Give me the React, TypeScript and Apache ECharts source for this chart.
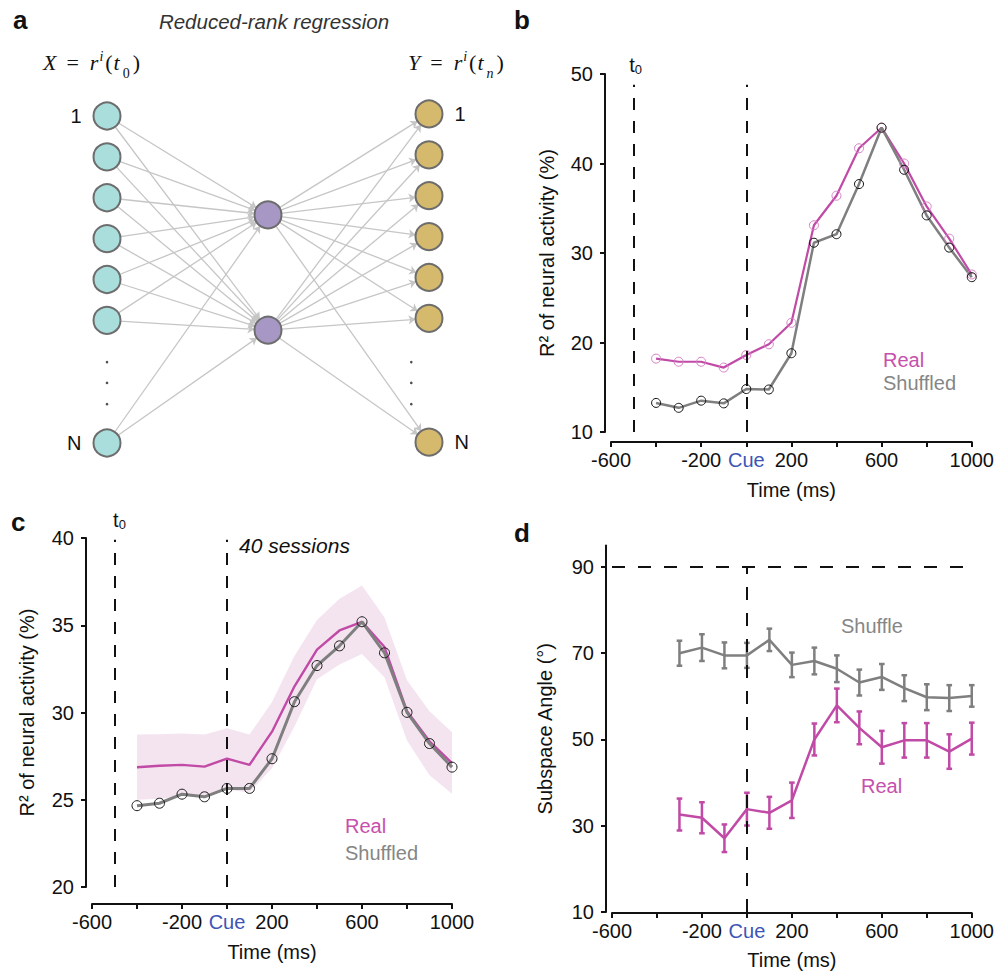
import React, { useEffect, useRef } from 'react';
import * as echarts from 'echarts';

const SANS = '"Liberation Sans", Arial, Helvetica, sans-serif';
const SERIF = '"Liberation Serif", "DejaVu Serif", serif';
const INK = '#111111';
const MAGENTA = '#c04aa6';
const MAGENTA_TEXT = '#c650ac';
const MAGENTA_MARK = '#d77fc6';
const GRAY = '#7f7f7f';
const GRAY_TEXT = '#868686';
const CUE_BLUE = '#3c55b4';
const BAND = '#f4e4f0';
const EDGE = '#c6c6c6';

// ---- a: reduced-rank regression network (layer index, row index) ----
const inputRows = [0, 1, 2, 3, 4, 5, 8];
const inputLabels = ['1', '', '', '', '', '', 'N'];
const latentRows = [2.42, 5.24];
const outputRows = [-0.05, 0.95, 1.95, 2.95, 3.95, 4.95, 7.98];
const outputLabels = ['1', '', '', '', '', '', 'N'];
const ellipsisRows = [6.02, 6.53, 7.05];
const ellipsisLayers = [0, 1.89];

// ---- shared time axis ----
const labelledTimes = [-600, -200, 0, 200, 600, 1000];
const onsetTime = -500;
const cueTime = 0;

// ---- b: single session ----
const timeB = [-400, -300, -200, -100, 0, 100, 200, 300, 400, 500, 600, 700, 800, 900, 1000];
const realB = [18.2, 17.85, 17.85, 17.2, 18.6, 19.8, 22.2, 33.1, 36.4, 41.7, 44.0, 40.0, 35.2, 31.6, 27.6];
const shuffledB = [13.25, 12.7, 13.5, 13.2, 14.8, 14.75, 18.8, 31.15, 32.1, 37.7, 44.0, 39.3, 34.2, 30.6, 27.3];

// ---- c: 40 sessions ----
const timeC = [-400, -300, -200, -100, 0, 100, 200, 300, 400, 500, 600, 700, 800, 900, 1000];
const realC = [26.86, 26.95, 27.0, 26.9, 27.36, 27.0, 28.9, 31.5, 33.6, 34.7, 35.2, 33.75, 30.07, 28.35, 27.1];
const shuffledC = [24.66, 24.8, 25.32, 25.17, 25.65, 25.65, 27.35, 30.62, 32.69, 33.82, 35.2, 33.42, 30.01, 28.22, 26.87];
const bandUpperC = [28.74, 28.76, 28.8, 28.74, 29.1, 28.74, 30.6, 33.25, 35.3, 36.52, 37.28, 35.45, 31.85, 30.07, 28.87];
const bandLowerC = [25.0, 25.06, 25.2, 25.2, 25.57, 25.42, 26.8, 29.2, 31.9, 32.75, 33.35, 32.0, 28.4, 26.4, 25.35];

// ---- d: subspace angle ----
const timeD = [-300, -200, -100, 0, 100, 200, 300, 400, 500, 600, 700, 800, 900, 1000];
const shuffleD = [70.0, 71.3, 69.5, 69.5, 73.1, 67.3, 68.2, 66.4, 63.2, 64.5, 61.9, 59.8, 59.6, 60.1];
const shuffleErrD = [2.9, 3.1, 3.0, 2.9, 2.6, 2.85, 3.1, 3.1, 3.0, 3.0, 3.0, 3.0, 3.0, 2.5];
const realD = [32.6, 31.85, 27.1, 33.85, 33.0, 35.9, 50.0, 57.9, 52.7, 48.2, 49.8, 49.8, 47.2, 50.2];
const realErrD = [3.7, 3.6, 3.2, 3.8, 3.7, 4.1, 3.7, 3.9, 3.8, 3.8, 4.0, 4.0, 4.0, 3.7];
const angleTicks = [10, 30, 50, 70, 90];
const orthogonalAngle = 90;

const axisLineStyle = { color: INK, width: 2 };

function timeAxis(gridIndex: number, offset: number, nameGap: number) {
  return {
    type: 'value',
    gridIndex,
    min: -600,
    max: 1000,
    interval: 200,
    offset,
    axisLine: { show: true, onZero: false, lineStyle: axisLineStyle },
    axisTick: { show: true, length: 5, lineStyle: axisLineStyle },
    splitLine: { show: false },
    axisLabel: {
      margin: 8,
      fontSize: 20,
      fontFamily: SANS,
      color: INK,
      formatter: (v: number) =>
        v === cueTime ? '{cue|Cue}' : labelledTimes.includes(v) ? String(v) : '',
      rich: { cue: { color: CUE_BLUE, fontSize: 20, fontFamily: SANS } },
    },
    name: 'Time (ms)',
    nameLocation: 'middle',
    nameGap,
    nameTextStyle: { fontSize: 20, fontFamily: SANS, color: INK },
  };
}

function valueAxis(
  gridIndex: number,
  min: number,
  max: number,
  interval: number,
  name: string,
  nameGap: number,
  custom?: number[]
) {
  return {
    type: 'value',
    gridIndex,
    min,
    max,
    interval,
    offset: 6,
    axisLine: { show: true, onZero: false, lineStyle: axisLineStyle },
    axisTick: custom
      ? { show: true, length: 5, lineStyle: axisLineStyle, customValues: custom }
      : { show: true, length: 5, lineStyle: axisLineStyle },
    splitLine: { show: false },
    axisLabel: custom
      ? { margin: 12, fontSize: 20, fontFamily: SANS, color: INK, customValues: custom }
      : { margin: 12, fontSize: 20, fontFamily: SANS, color: INK },
    name,
    nameLocation: 'middle',
    nameGap,
    nameTextStyle: { fontSize: 20, fontFamily: SANS, color: INK },
  };
}

function onsetLabel(padLeft: number) {
  return {
    show: true,
    position: 'end',
    distance: 8,
    formatter: '{t|t}{s|0}',
    rich: {
      t: { fontSize: 20, fontFamily: SANS, color: INK, lineHeight: 24, padding: [0, 0, 0, padLeft] },
      s: { fontSize: 13, fontFamily: SANS, color: INK, lineHeight: 13, verticalAlign: 'top', padding: [10, 0, 0, 0] },
    },
  };
}

function dashedMarks(top: number, bottom: number, dash: number[], padLeft: number) {
  return {
    silent: true,
    symbol: ['none', 'none'],
    animation: false,
    lineStyle: { type: dash, color: INK, width: 2 },
    label: { show: false },
    emphasis: { disabled: true },
    data: [
      [{ coord: [onsetTime, bottom] }, { coord: [onsetTime, top], label: onsetLabel(padLeft) }],
      [{ coord: [cueTime, bottom] }, { coord: [cueTime, top] }],
    ],
  };
}

function errorBars(axisIndex: number, times: number[], means: number[], errs: number[], color: string) {
  return {
    type: 'custom',
    xAxisIndex: axisIndex,
    yAxisIndex: axisIndex,
    silent: true,
    data: times.map((t, i) => [t, means[i] - errs[i], means[i] + errs[i]]),
    encode: { x: 0, y: [1, 2] },
    renderItem: (_params: any, api: any) => {
      const x = api.value(0);
      const top = api.coord([x, api.value(2)]);
      const bot = api.coord([x, api.value(1)]);
      const w = 2.8;
      const style = { stroke: color, lineWidth: 2.5 };
      return {
        type: 'group',
        children: [
          { type: 'line', shape: { x1: top[0], y1: top[1], x2: bot[0], y2: bot[1] }, style },
          { type: 'line', shape: { x1: top[0] - w, y1: top[1], x2: top[0] + w, y2: top[1] }, style },
          { type: 'line', shape: { x1: bot[0] - w, y1: bot[1], x2: bot[0] + w, y2: bot[1] }, style },
        ],
      };
    },
  };
}

function text(x: number, y: number, content: string, font: string, fill: string, align = 'left') {
  return {
    type: 'text',
    x,
    y,
    silent: true,
    style: { text: content, font, fill, align, verticalAlign: 'middle' },
  };
}

// r^i(t_k) written with rich tokens: superscript via top alignment, subscript via top padding
function formula(x: number, y: number, lhs: string, sub: string) {
  const main = { fontFamily: SERIF, fontStyle: 'italic', fontSize: 22, lineHeight: 40, fill: INK };
  const up = { fontFamily: SERIF, fontStyle: 'normal', fontSize: 22, lineHeight: 40, fill: INK };
  return {
    type: 'text',
    x,
    y,
    silent: true,
    style: {
      text: `{a|${lhs}}{eq|=}{r|r}{sup|i}{p1|(}{t|t}{sub|${sub}}{p2|)}`,
      verticalAlign: 'top',
      rich: {
        a: { ...main, padding: [0, 3, 0, 0] },
        eq: { ...up, padding: [0, 8, 0, 7] },
        r: { ...main, padding: [0, 0, 0, 3] },
        sup: { fontFamily: SERIF, fontStyle: 'italic', fontSize: 14, lineHeight: 14, verticalAlign: 'top', fill: INK, padding: [7, 0, 0, 1] },
        p1: { ...up, padding: [0, 0, 0, 2] },
        t: { ...main, padding: [0, 0, 0, 1] },
        sub: { fontFamily: SERIF, fontStyle: sub === 'n' ? 'italic' : 'normal', fontSize: 14, lineHeight: 14, verticalAlign: 'top', fill: INK, padding: [24, 0, 0, 3] },
        p2: { ...up, padding: [0, 0, 0, 3] },
      },
    },
  };
}

function buildOption() {
  // network nodes and fully-connected links
  const nodeStyle = { borderColor: '#6d6d6d', borderWidth: 2 };
  const nodeLabel = (t: string, pos: string) => ({
    show: t !== '',
    formatter: t,
    position: pos,
    distance: 11,
    fontSize: 20,
    fontFamily: SANS,
    color: INK,
  });
  const nodes = [
    ...inputRows.map((r, i) => ({
      name: `x${i}`,
      value: [0, r],
      itemStyle: { ...nodeStyle, color: '#a9dedc' },
      label: nodeLabel(inputLabels[i], 'left'),
    })),
    ...latentRows.map((r, i) => ({
      name: `z${i}`,
      value: [1, r],
      itemStyle: { ...nodeStyle, color: '#a697c5' },
      label: { show: false },
    })),
    ...outputRows.map((r, i) => ({
      name: `y${i}`,
      value: [2, r],
      itemStyle: { ...nodeStyle, color: '#d5b96c' },
      label: nodeLabel(outputLabels[i], 'right'),
    })),
  ];
  const links: { source: number; target: number }[] = [];
  inputRows.forEach((_, i) =>
    latentRows.forEach((_, j) => links.push({ source: i, target: inputRows.length + j }))
  );
  latentRows.forEach((_, j) =>
    outputRows.forEach((_, k) =>
      links.push({ source: inputRows.length + j, target: inputRows.length + latentRows.length + k })
    )
  );
  const dots: number[][] = [];
  ellipsisLayers.forEach((l) => ellipsisRows.forEach((r) => dots.push([l, r])));

  return {
    animation: false,
    backgroundColor: '#ffffff',
    grid: [
      { left: 107, top: 116, width: 322, height: 327 },
      { left: 611, top: 74, width: 361, height: 358 },
      { left: 92, top: 538, width: 360, height: 349 },
      { left: 612, top: 545.4, width: 360, height: 366.6 },
    ],
    xAxis: [
      { type: 'value', gridIndex: 0, min: 0, max: 2, show: false },
      timeAxis(1, 10, 38),
      timeAxis(2, 17, 38),
      timeAxis(3, 1, 37),
    ],
    yAxis: [
      { type: 'value', gridIndex: 0, min: 0, max: 8, inverse: true, show: false },
      valueAxis(1, 10, 50, 10, 'R² of neural activity (%)', 48),
      valueAxis(2, 20, 40, 5, 'R² of neural activity (%)', 49),
      valueAxis(3, 10, 95, 20, 'Subspace Angle (°)', 51, angleTicks),
    ],
    series: [
      // a
      {
        type: 'graph',
        coordinateSystem: 'cartesian2d',
        xAxisIndex: 0,
        yAxisIndex: 0,
        layout: 'none',
        silent: true,
        symbol: 'circle',
        symbolSize: 27,
        edgeSymbol: ['none', 'arrow'],
        edgeSymbolSize: [0, 7],
        lineStyle: { color: EDGE, width: 1.3, opacity: 1 },
        emphasis: { disabled: true },
        data: nodes,
        links,
      },
      {
        type: 'scatter',
        xAxisIndex: 0,
        yAxisIndex: 0,
        silent: true,
        clip: false,
        symbol: 'circle',
        symbolSize: 2.6,
        itemStyle: { color: '#222' },
        data: dots,
      },
      // b
      {
        type: 'line',
        xAxisIndex: 1,
        yAxisIndex: 1,
        data: timeB.map((t, i) => [t, realB[i]]),
        symbol: 'circle',
        symbolSize: 9,
        lineStyle: { color: MAGENTA, width: 2.2 },
        itemStyle: { color: 'rgba(255,255,255,0)', borderColor: MAGENTA_MARK, borderWidth: 1 },
        markLine: dashedMarks(48.8, 10, [12, 11], 4),
      },
      {
        type: 'line',
        xAxisIndex: 1,
        yAxisIndex: 1,
        data: timeB.map((t, i) => [t, shuffledB[i]]),
        symbol: 'circle',
        symbolSize: 9,
        lineStyle: { color: GRAY, width: 2.5 },
        itemStyle: { color: 'rgba(255,255,255,0)', borderColor: '#111', borderWidth: 1 },
      },
      // c
      {
        type: 'custom',
        xAxisIndex: 2,
        yAxisIndex: 2,
        silent: true,
        data: timeC.map((t, i) => [t, bandLowerC[i], bandUpperC[i]]),
        encode: { x: 0, y: [1, 2] },
        renderItem: (params: any, api: any) => {
          if (params.dataIndex !== 0) return null;
          const pts: number[][] = [];
          for (let i = 0; i < timeC.length; i++) pts.push(api.coord([timeC[i], bandUpperC[i]]));
          for (let i = timeC.length - 1; i >= 0; i--) pts.push(api.coord([timeC[i], bandLowerC[i]]));
          return { type: 'polygon', shape: { points: pts }, style: { fill: BAND } };
        },
      },
      {
        type: 'line',
        xAxisIndex: 2,
        yAxisIndex: 2,
        data: timeC.map((t, i) => [t, realC[i]]),
        symbol: 'none',
        lineStyle: { color: MAGENTA, width: 2.4 },
        markLine: dashedMarks(39.9, 20, [12, 11], 10),
      },
      {
        type: 'line',
        xAxisIndex: 2,
        yAxisIndex: 2,
        data: timeC.map((t, i) => [t, shuffledC[i]]),
        symbol: 'circle',
        symbolSize: 10,
        lineStyle: { color: GRAY, width: 3 },
        itemStyle: { color: 'rgba(255,255,255,0)', borderColor: '#1a1a1a', borderWidth: 1 },
      },
      // d
      errorBars(3, timeD, shuffleD, shuffleErrD, GRAY),
      errorBars(3, timeD, realD, realErrD, MAGENTA),
      {
        type: 'line',
        xAxisIndex: 3,
        yAxisIndex: 3,
        data: timeD.map((t, i) => [t, shuffleD[i]]),
        symbol: 'none',
        lineStyle: { color: GRAY, width: 2.5 },
        markLine: {
          silent: true,
          symbol: ['none', 'none'],
          animation: false,
          lineStyle: { type: [13, 13], color: INK, width: 2 },
          label: { show: false },
          emphasis: { disabled: true },
          data: [
            { yAxis: orthogonalAngle },
            [{ coord: [cueTime, 10] }, { coord: [cueTime, orthogonalAngle] }],
          ],
        },
      },
      {
        type: 'line',
        xAxisIndex: 3,
        yAxisIndex: 3,
        data: timeD.map((t, i) => [t, realD[i]]),
        symbol: 'none',
        lineStyle: { color: MAGENTA, width: 2.5 },
      },
    ],
    graphic: [
      text(13, 19.6, 'a', `bold 26px ${SANS}`, INK),
      text(514, 19.6, 'b', `bold 26px ${SANS}`, INK),
      text(11, 522, 'c', `bold 26px ${SANS}`, INK),
      text(514, 533, 'd', `bold 26px ${SANS}`, INK),
      text(274, 21.5, 'Reduced-rank regression', `italic 20.5px ${SANS}`, '#333333', 'center'),
      formula(43, 42, 'X', '0'),
      formula(408, 42, 'Y', 'n'),
      text(883, 360, 'Real', `20px ${SANS}`, MAGENTA_TEXT),
      text(883, 383, 'Shuffled', `20px ${SANS}`, GRAY_TEXT),
      text(345, 826, 'Real', `20px ${SANS}`, MAGENTA_TEXT),
      text(345, 853, 'Shuffled', `20px ${SANS}`, GRAY_TEXT),
      text(239, 545, '40 sessions', `italic 21px ${SANS}`, INK),
      text(841, 626, 'Shuffle', `20px ${SANS}`, GRAY_TEXT),
      text(861, 786, 'Real', `20px ${SANS}`, MAGENTA_TEXT),
    ],
  };
}

export default function App() {
  const ref = useRef<HTMLDivElement>(null);
  useEffect(() => {
    const el = ref.current;
    if (!el) return;
    const chart = echarts.init(el, null, { renderer: 'svg' });
    chart.setOption(buildOption() as any);
    return () => chart.dispose();
  }, []);
  return (
    <div
      ref={ref}
      style={{ position: 'absolute', left: 0, top: 0, width: 997, height: 974, background: '#fff' }}
    />
  );
}
